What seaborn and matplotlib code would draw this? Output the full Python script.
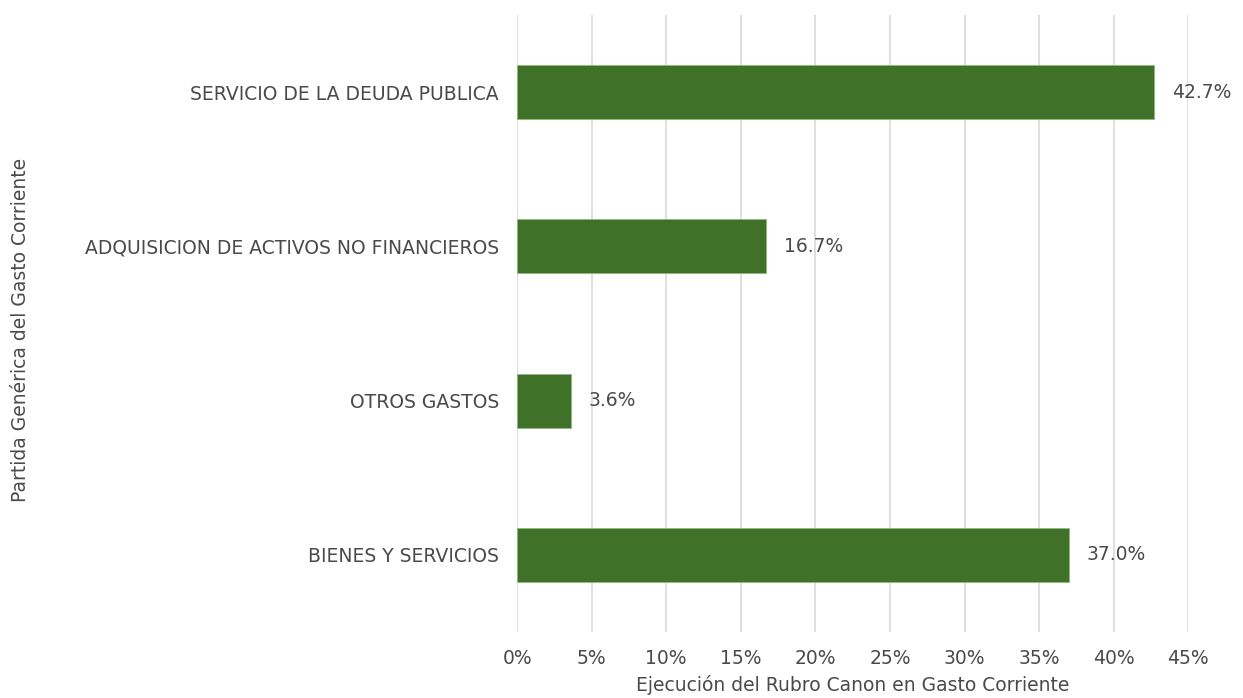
import matplotlib
matplotlib.use("Agg")
import matplotlib.pyplot as plt
import seaborn as sns
import pandas as pd
from matplotlib.ticker import PercentFormatter

categories = ["SERVICIO DE LA DEUDA PUBLICA", "ADQUISICION DE ACTIVOS NO FINANCIEROS",
              "OTROS GASTOS", "BIENES Y SERVICIOS"]
values = [42.7, 16.7, 3.6, 37.0]
xticks = [0, 5, 10, 15, 20, 25, 30, 35, 40, 45]

sns.set_theme(style="white")
plt.rcParams['font.family'] = ['DejaVu Sans']
text_color = "#4a4a4a"
fs = 13.5

df = pd.DataFrame({"cat": categories, "val": values})

fig = plt.figure(figsize=(12.43, 6.98), dpi=100)
ax = fig.add_axes([0.416, 0.0946, 0.54, 0.8839])

sns.barplot(data=df, x="val", y="cat", color="#3f7228", saturation=1, width=0.35,
            edgecolor="#8fb87a", linewidth=0.6, ax=ax, zorder=3)

ax.set_xlim(0, 45)
ax.set_xticks(xticks)
ax.xaxis.set_major_formatter(PercentFormatter(decimals=0))
ax.grid(axis="x", color="#d9d9d9", linewidth=1.2, zorder=0)
ax.set_axisbelow(True)
for s in ax.spines.values():
    s.set_visible(False)
ax.tick_params(axis="x", length=0, pad=12, labelsize=fs, labelcolor=text_color)
ax.tick_params(axis="y", length=0, pad=13, labelsize=fs, labelcolor=text_color)

for i, v in enumerate(values):
    ax.annotate(f"{v:.1f}%", xy=(v, i), xytext=(13, 0), textcoords="offset points",
                va="center", ha="left", fontsize=fs, color=text_color)

ax.set_xlabel("Ejecución del Rubro Canon en Gasto Corriente", fontsize=fs, color=text_color, labelpad=5)
ax.set_ylabel("Partida Genérica del Gasto Corriente", fontsize=fs, color=text_color)
ax.yaxis.set_label_coords(-0.725, 0.49)

fig.savefig("out.png", dpi=100)
